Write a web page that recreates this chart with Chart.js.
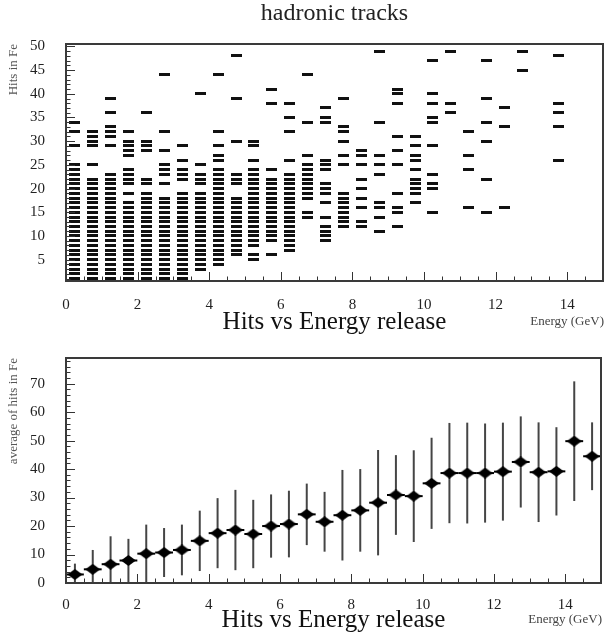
<!DOCTYPE html>
<html>
<head>
<meta charset="utf-8">
<script src="https://cdn.jsdelivr.net/npm/chart.js@4.4.1/dist/chart.umd.min.js"></script>
<style>
  html, body { margin: 0; padding: 0; background: #fff; }
  #wrap { position: relative; width: 609px; height: 639px; }
  canvas { position: absolute; left: 0; }
  #top { top: 0; }
  #bottom { top: 336px; }
</style>
</head>
<body>
<div id="wrap">
  <canvas id="top" width="609" height="336"></canvas>
  <canvas id="bottom" width="609" height="303"></canvas>
</div>
<script>
// energy bins (GeV), bin centres, width 0.5
const energyBins = [0.25, 0.75, 1.25, 1.75, 2.25, 2.75, 3.25, 3.75, 4.25, 4.75,
  5.25, 5.75, 6.25, 6.75, 7.25, 7.75, 8.25, 8.75, 9.25, 9.75,
  10.25, 10.75, 11.25, 11.75, 12.25, 12.75, 13.25, 13.75, 14.25, 14.75];

// top plot: hit counts that are filled in each energy bin
const hitsPerBin = [
  [1,2,3,4,5,6,7,8,9,10,11,12,13,14,15,16,17,18,19,20,21,22,23,24,25,29,32,34],
  [1,2,3,4,5,6,7,8,9,10,11,12,13,14,15,16,17,18,19,20,21,22,25,29,30,31,32],
  [1,2,3,4,5,6,7,8,9,10,11,12,13,14,15,16,17,18,19,20,21,22,23,29,31,32,33,36,39],
  [1,2,3,4,5,6,7,8,9,10,11,12,13,14,15,16,17,19,21,22,23,24,27,28,29,30,32],
  [1,2,3,4,5,6,7,8,9,10,11,12,13,14,15,16,17,18,19,21,22,28,29,30,36],
  [1,2,3,4,5,6,7,8,9,10,11,12,13,14,15,16,17,18,21,23,24,25,28,32,44],
  [1,2,3,4,5,6,7,8,9,10,11,12,13,14,15,16,17,18,19,22,23,24,26,29],
  [3,4,5,6,7,8,9,10,11,12,13,14,15,16,17,18,19,21,22,23,25,40],
  [4,5,6,7,8,9,10,11,12,13,14,15,16,17,18,19,20,21,22,23,24,26,27,29,32,44],
  [6,7,8,9,10,11,12,13,14,15,16,17,18,21,22,23,30,39,48],
  [5,6,8,9,10,11,12,13,14,15,16,17,18,19,20,21,22,23,24,26,29,30],
  [6,9,10,11,12,13,14,15,16,17,18,19,20,21,22,24,38,41],
  [7,8,9,10,11,12,13,14,15,16,17,18,19,20,21,22,23,26,32,35,38],
  [14,15,18,19,20,21,22,23,24,25,27,34,44],
  [9,10,11,12,14,17,19,20,21,24,25,26,34,35,37],
  [12,13,14,15,16,17,18,19,25,27,30,32,33,39],
  [12,13,16,18,20,22,25,27,28],
  [11,14,16,17,23,25,27,34,49],
  [12,15,16,19,25,28,31,38,40,41],
  [17,19,20,21,22,24,26,27,29,31],
  [15,20,21,23,29,34,35,38,40,47],
  [36,38,49],
  [16,24,27,32],
  [15,22,30,34,39,47],
  [16,33,37],
  [45,49],
  [],
  [26,33,36,38,48],
  [],
  []
];

// bottom plot: average hits and spread per energy bin
const avgHits = [3.0, 4.8, 6.6, 7.9, 10.3, 10.7, 11.6, 14.8, 17.5, 18.6,
  17.2, 20.0, 20.7, 24.1, 21.5, 23.8, 25.5, 28.2, 30.9, 30.5,
  35.0, 38.6, 38.6, 38.6, 39.1, 42.5, 38.9, 39.2, 49.8, 44.5];
const hitsSpread = [3.8, 6.8, 9.8, 7.6, 10.2, 8.6, 8.9, 10.6, 12.3, 14.1,
  12.0, 11.1, 11.7, 10.8, 10.5, 15.9, 14.5, 18.5, 14.0, 16.1,
  16.0, 17.6, 17.7, 17.4, 17.2, 16.0, 17.5, 15.5, 21.0, 11.9];

// tick labels
const xTicks = [0, 2, 4, 6, 8, 10, 12, 14];
const yTicksTop = [5, 10, 15, 20, 25, 30, 35, 40, 45, 50];
const yTicksBottom = [0, 10, 20, 30, 40, 50, 60, 70];

const SERIF = "'Liberation Serif', 'DejaVu Serif', serif";
Chart.defaults.font.family = SERIF;
Chart.defaults.color = '#222';

// marker images
function dashMarker() {
  const c = document.createElement('canvas');
  c.width = 11; c.height = 3;
  const g = c.getContext('2d');
  g.fillStyle = '#111';
  g.fillRect(0, 0, 11, 3);
  return c;
}
function diamondMarker(w, h) {
  const c = document.createElement('canvas');
  c.width = w; c.height = h;
  const g = c.getContext('2d');
  g.fillStyle = '#000';
  g.beginPath();
  g.moveTo(w / 2, 0); g.lineTo(w, h / 2); g.lineTo(w / 2, h); g.lineTo(0, h / 2);
  g.closePath();
  g.fill();
  return c;
}

// ROOT-like frame with ticks pointing inwards
function frameTicks(xMajor, xMinor, yMajor, yMinor) {
  return {
    id: 'frameTicks',
    afterDraw(chart) {
      const {ctx, chartArea: a, scales: {x, y}} = chart;
      ctx.save();
      ctx.strokeStyle = '#333';
      ctx.lineWidth = 1;
      const isMajor = (v, m) => Math.abs(v / m - Math.round(v / m)) < 1e-6;
      for (let k = Math.ceil(x.min / xMinor); k * xMinor <= x.max + 1e-9; k++) {
        const v = k * xMinor, px = Math.round(x.getPixelForValue(v)) + 0.5;
        const len = isMajor(v, xMajor) ? 9 : 4.5;
        ctx.beginPath(); ctx.moveTo(px, a.bottom); ctx.lineTo(px, a.bottom - len); ctx.stroke();
      }
      for (let k = Math.ceil(y.min / yMinor); k * yMinor <= y.max + 1e-9; k++) {
        const v = k * yMinor, py = Math.round(y.getPixelForValue(v)) + 0.5;
        const len = isMajor(v, yMajor) ? 9 : 4.5;
        ctx.beginPath(); ctx.moveTo(a.left, py); ctx.lineTo(a.left + len, py); ctx.stroke();
      }
      ctx.lineWidth = 2;
      ctx.strokeStyle = '#3a3a3a';
      ctx.strokeRect(a.left, a.top, a.right - a.left, a.bottom - a.top);
      ctx.restore();
    }
  };
}

// small axis caption on the right
function energyCaption(yPos) {
  return {
    id: 'energyCaption',
    afterDraw(chart) {
      const ctx = chart.ctx;
      ctx.save();
      ctx.font = '13px ' + SERIF;
      ctx.fillStyle = '#444';
      ctx.textAlign = 'right';
      ctx.textBaseline = 'middle';
      ctx.fillText('Energy (GeV)', chart.chartArea.right + 1, yPos);
      ctx.restore();
    }
  };
}

// histogram title centred over the frame
const histTitle = {
  id: 'histTitle',
  afterDraw(chart) {
    const {ctx, chartArea: a} = chart;
    ctx.save();
    ctx.font = '24px ' + SERIF;
    ctx.fillStyle = '#222';
    ctx.textAlign = 'center';
    ctx.textBaseline = 'middle';
    ctx.fillText('hadronic tracks', (a.left + a.right) / 2, 14);
    ctx.restore();
  }
};

// vertical (spread) and horizontal (bin width) error bars
const errorBars = {
  id: 'errorBars',
  beforeDatasetsDraw(chart) {
    const {ctx, chartArea: a, scales: {x, y}} = chart;
    ctx.save();
    ctx.beginPath();
    ctx.rect(a.left, a.top, a.right - a.left, a.bottom - a.top);
    ctx.clip();
    energyBins.forEach((e, i) => {
      const px = x.getPixelForValue(e);
      const lo = Math.max(avgHits[i] - hitsSpread[i], y.min);
      const hi = Math.min(avgHits[i] + hitsSpread[i], y.max);
      ctx.strokeStyle = '#454545';
      ctx.lineWidth = 2;
      ctx.beginPath();
      ctx.moveTo(px, y.getPixelForValue(lo));
      ctx.lineTo(px, y.getPixelForValue(hi));
      ctx.stroke();
      const py = y.getPixelForValue(avgHits[i]);
      ctx.strokeStyle = '#000';
      ctx.beginPath();
      ctx.moveTo(x.getPixelForValue(e - 0.25), py);
      ctx.lineTo(x.getPixelForValue(e + 0.25), py);
      ctx.stroke();
    });
    ctx.restore();
  }
};

function xScale(tickPad, titlePadBottom, axisHeight) {
  return {
    type: 'linear',
    min: 0, max: 15,
    grid: { display: false },
    border: { display: false },
    afterBuildTicks: s => { s.ticks = xTicks.map(v => ({ value: v })); },
    afterFit: s => { s.height = axisHeight; },
    ticks: { padding: tickPad, font: { size: 15 }, color: '#222', maxRotation: 0 },
    title: {
      display: true,
      text: 'Hits vs Energy release',
      font: { size: 25, lineHeight: 1 },
      color: '#111',
      padding: { top: 0, bottom: titlePadBottom }
    }
  };
}

function yScale(min, max, ticks, title) {
  return {
    type: 'linear',
    min: min, max: max,
    grid: { display: false },
    border: { display: false },
    afterBuildTicks: s => { s.ticks = ticks.map(v => ({ value: v })); },
    afterFit: s => { s.width = 66; },
    ticks: { padding: 13, font: { size: 15 }, color: '#222' },
    title: {
      display: true,
      text: title,
      align: 'end',
      font: { size: 13 },
      color: '#555',
      padding: { top: 6, bottom: 0 }
    }
  };
}

// top: 2D hits vs energy
const topPoints = energyBins.flatMap((e, i) => hitsPerBin[i].map(h => ({ x: e, y: h })));

new Chart(document.getElementById('top'), {
  type: 'scatter',
  data: {
    datasets: [{
      data: topPoints,
      pointStyle: dashMarker(),
      pointRadius: 5,
      pointHoverRadius: 5
    }]
  },
  options: {
    responsive: false,
    animation: false,
    layout: { padding: { left: 0, right: 3, top: 44, bottom: 0 } },
    plugins: {
      legend: { display: false },
      tooltip: { enabled: false }
    },
    scales: {
      x: xScale(7, 1.5, 55),
      y: yScale(0.5, 50.5, yTicksTop, 'Hits in Fe')
    }
  },
  plugins: [frameTicks(2, 0.5, 5, 1), histTitle, energyCaption(322)]
});

// bottom: profile of average hits
new Chart(document.getElementById('bottom'), {
  type: 'scatter',
  data: {
    datasets: [{
      data: energyBins.map((e, i) => ({ x: e, y: avgHits[i] })),
      pointStyle: diamondMarker(15, 11),
      pointRadius: 7,
      pointHoverRadius: 7
    }]
  },
  options: {
    responsive: false,
    animation: false,
    layout: { padding: { left: 0, right: 3, top: 11, bottom: 0 } },
    plugins: {
      legend: { display: false },
      tooltip: { enabled: false }
    },
    scales: {
      x: xScale(5, 6.5, 56),
      y: yScale(0, 79, yTicksBottom, 'average of hits in Fe')
    }
  },
  plugins: [errorBars, frameTicks(2, 0.5, 10, 2), energyCaption(284)]
});
</script>
</body>
</html>
